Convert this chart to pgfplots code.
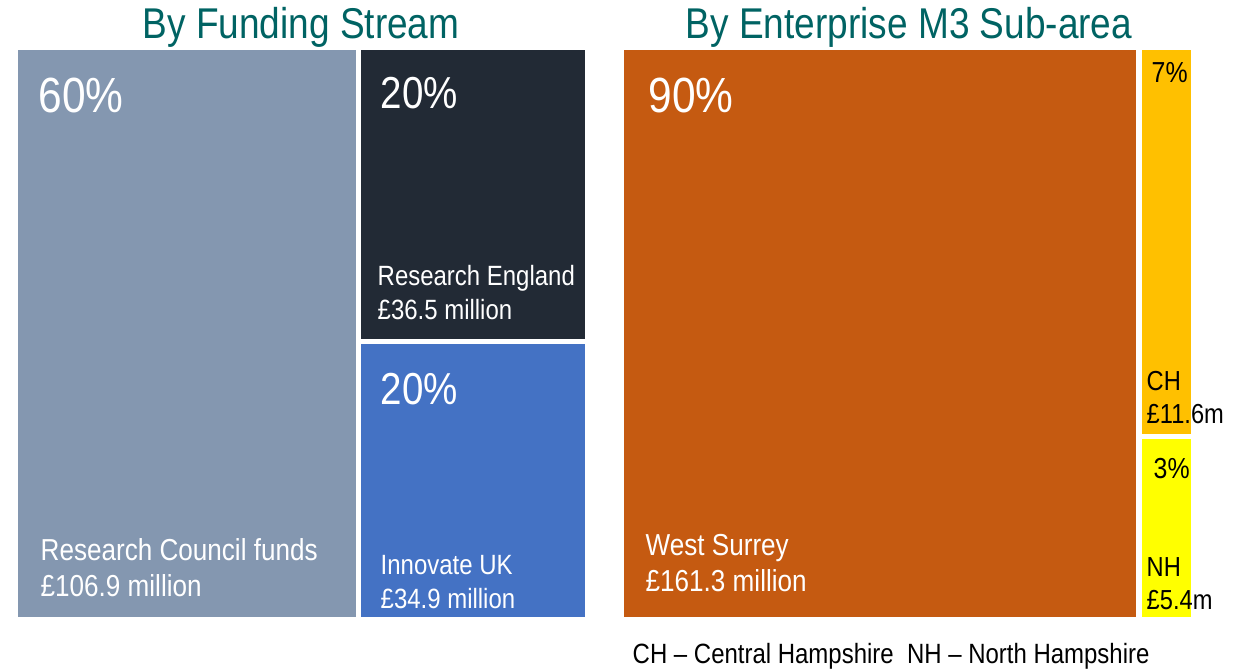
\documentclass[border=0pt]{standalone}
\usepackage{pgfplots}
\pgfplotsset{compat=1.18}
\usepackage{fontspec}
\setmainfont{Liberation Sans}[FakeStretch=0.86]
\definecolor{rcgrey}{HTML}{8497B0}
\definecolor{redark}{HTML}{222A35}
\definecolor{iublue}{HTML}{4472C4}
\definecolor{wsorange}{HTML}{C55A11}
\definecolor{chgold}{HTML}{FFC000}
\definecolor{nhyellow}{HTML}{FFFF00}
\definecolor{titleteal}{RGB}{0,99,99}
\newcommand{\fs}[1]{\fontsize{#1}{#1}\selectfont}
\begin{document}
\begin{tikzpicture}
\begin{axis}[
  width=353.2pt, height=189.4pt, scale only axis,
  xmin=0, xmax=1246, ymin=0, ymax=668, y dir=reverse,
  hide axis, clip=false,
]
\coordinate (ll) at (axis cs:0,668);
\coordinate (ur) at (axis cs:1246,0);
% treemap tiles (pixel layout, y from top)
\addplot[fill=rcgrey, draw=none] coordinates {(18,50) (356,50) (356,617) (18,617)} -- cycle;
\addplot[fill=redark, draw=none] coordinates {(361,50) (585,50) (585,339) (361,339)} -- cycle;
\addplot[fill=iublue, draw=none] coordinates {(361,344) (585,344) (585,617) (361,617)} -- cycle;
\addplot[fill=wsorange, draw=none] coordinates {(624,50) (1136,50) (1136,617) (624,617)} -- cycle;
\addplot[fill=chgold, draw=none] coordinates {(1142,50) (1191,50) (1191,434) (1142,434)} -- cycle;
\addplot[fill=nhyellow, draw=none] coordinates {(1142,439) (1191,439) (1191,617) (1142,617)} -- cycle;

% titles
\node[anchor=base, text=titleteal, font=\fs{12.2pt}, inner sep=0pt] at (axis cs:301,38) {By Funding Stream};
\node[anchor=base, text=titleteal, font=\fs{12.2pt}, inner sep=0pt] at (axis cs:909,38) {By Enterprise M3 Sub-area};

% left panel labels
\node[anchor=base west, text=white, font=\fs{14pt}, inner sep=0pt] at (axis cs:38,112) {60\%};
\node[anchor=base west, text=white, font=\fs{8.6pt}, inner sep=0pt] at (axis cs:40,560) {Research Council funds};
\node[anchor=base west, text=white, font=\fs{8.6pt}, inner sep=0pt] at (axis cs:40,596) {£106.9 million};
\node[anchor=base west, text=white, font=\fs{12.7pt}, inner sep=0pt] at (axis cs:380,108) {20\%};
\node[anchor=base west, text=white, font=\fs{7.9pt}, inner sep=0pt] at (axis cs:377,285) {Research England};
\node[anchor=base west, text=white, font=\fs{7.9pt}, inner sep=0pt] at (axis cs:377,319) {£36.5 million};
\node[anchor=base west, text=white, font=\fs{12.7pt}, inner sep=0pt] at (axis cs:380,404) {20\%};
\node[anchor=base west, text=white, font=\fs{7.9pt}, inner sep=0pt] at (axis cs:380,574) {Innovate UK};
\node[anchor=base west, text=white, font=\fs{7.9pt}, inner sep=0pt] at (axis cs:380,608) {£34.9 million};

% right panel labels
\node[anchor=base west, text=white, font=\fs{14pt}, inner sep=0pt] at (axis cs:648,112) {90\%};
\node[anchor=base west, text=white, font=\fs{8.6pt}, inner sep=0pt] at (axis cs:645,555) {West Surrey};
\node[anchor=base west, text=white, font=\fs{8.6pt}, inner sep=0pt] at (axis cs:645,591) {£161.3 million};
\node[anchor=base west, text=black, font=\fs{8.2pt}, inner sep=0pt] at (axis cs:1151,82) {7\%};
\node[anchor=base west, text=black, font=\fs{7.8pt}, inner sep=0pt] at (axis cs:1146,390) {CH};
\node[anchor=base west, text=black, font=\fs{7.8pt}, inner sep=0pt] at (axis cs:1146,423) {£11.6m};
\node[anchor=base west, text=black, font=\fs{8.2pt}, inner sep=0pt] at (axis cs:1153,478) {3\%};
\node[anchor=base west, text=black, font=\fs{7.8pt}, inner sep=0pt] at (axis cs:1146,576) {NH};
\node[anchor=base west, text=black, font=\fs{7.8pt}, inner sep=0pt] at (axis cs:1146,609) {£5.4m};

% footnote
\node[anchor=base west, text=black, font=\fs{7.9pt}, inner sep=0pt] at (axis cs:632,663) {CH – Central Hampshire\ \ NH – North Hampshire};
\end{axis}
\pgfresetboundingbox
\path (ll) rectangle (ur);
\end{tikzpicture}
\end{document}
